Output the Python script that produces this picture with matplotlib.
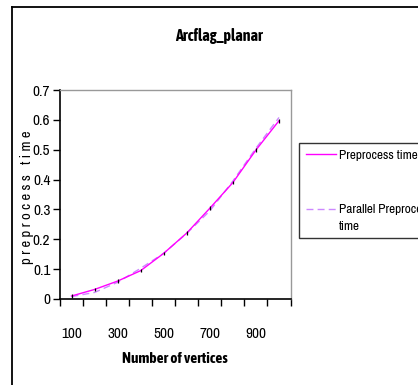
import matplotlib
matplotlib.use("Agg")
import matplotlib.pyplot as plt
from matplotlib.lines import Line2D
from matplotlib.legend_handler import HandlerLine2D
from matplotlib.ticker import FixedLocator, NullFormatter, FixedFormatter

plt.rcParams['font.family'] = ['Liberation Sans Narrow', 'Archivo Narrow', 'DejaVu Sans']
BOLD_FAMILY = ['Liberation Sans Narrow', 'Asap Condensed', 'DejaVu Sans']

vertices = [100, 200, 300, 400, 500, 600, 700, 800, 900, 1000]
preprocess = [0.010, 0.032, 0.060, 0.095, 0.153, 0.221, 0.304, 0.390, 0.499, 0.597]
parallel = [0.008, 0.022, 0.056, 0.103, 0.153, 0.220, 0.295, 0.395, 0.505, 0.608]
shown_labels = ['100', '300', '500', '700', '900']
yticks = [0, 0.1, 0.2, 0.3, 0.4, 0.5, 0.6, 0.7]
ytick_labels = ['0', '0.1', '0.2', '0.3', '0.4', '0.5', '0.6', '0.7']


class RaisedHandler(HandlerLine2D):
    def __init__(self, shift, **kw):
        super().__init__(**kw)
        self.shift = shift

    def create_artists(self, legend, orig_handle, xdescent, ydescent, width, height, fontsize, trans):
        return super().create_artists(legend, orig_handle, xdescent, ydescent - self.shift,
                                      width, height, fontsize, trans)


W, H = 418, 385
fig = plt.figure(figsize=(W / 100, H / 100), dpi=100)
ax = fig.add_axes([60 / W, 1 - 299 / H, (290.5 - 60) / W, (299 - 90) / H])

pos = list(range(1, len(vertices) + 1))
l1, = ax.plot(pos, preprocess, color='#ff00ff', lw=1.0, label='Preprocess time', zorder=3)
l2, = ax.plot(pos, parallel, color='#cc88ff', lw=1.0, ls=(0, (5, 3)), label='Parallel Preprocess\ntime', zorder=2)
ax.errorbar(pos, preprocess, yerr=0.006, fmt='none', ecolor='black', elinewidth=0.9, capsize=0, zorder=4)

ax.set_xlim(0.5, len(vertices) + 0.5)
ax.set_ylim(0, 0.7)
ax.xaxis.set_major_locator(FixedLocator([i + 0.5 for i in range(0, len(vertices) + 1)]))
ax.xaxis.set_major_formatter(NullFormatter())
ax.xaxis.set_minor_locator(FixedLocator([1, 3, 5, 7, 9]))
ax.xaxis.set_minor_formatter(FixedFormatter(shown_labels))
ax.tick_params(axis='x', which='major', direction='out', length=5, width=1)
ax.tick_params(axis='x', which='minor', length=0, pad=20, labelsize=11)
ax.set_yticks(yticks)
ax.set_yticklabels(ytick_labels)
ax.tick_params(axis='y', direction='out', length=5, width=1, labelsize=11, pad=2)

for s in ['top', 'right']:
    ax.spines[s].set_color('#999999')
    ax.spines[s].set_linewidth(1)
for s in ['left', 'bottom']:
    ax.spines[s].set_color('black')
    ax.spines[s].set_linewidth(1.2)

ax.set_xlabel('Number of vertices', fontsize=11, fontweight='bold', family=BOLD_FAMILY, labelpad=8)
fig.text(27 / W, 1 - 197 / H, 'p r e p r o c e s s   t i m e', rotation=90,
         ha='center', va='center', fontsize=10.5)
fig.text(219 / W, 1 - 36 / H, 'Arcflag_planar', ha='center', va='center',
         fontsize=11.5, fontweight='bold', family=BOLD_FAMILY)

leg = fig.legend(handles=[l1, l2], loc='upper left', bbox_to_anchor=(299 / W, 1 - 143 / H),
                 frameon=True, fancybox=False, edgecolor='black', fontsize=9.5,
                 handlelength=2.3, handletextpad=0.2, labelspacing=3.3,
                 borderpad=0.5, borderaxespad=0,
                 handler_map={l2: RaisedHandler(shift=13)})
leg.get_frame().set_linewidth(1.0)
leg.get_texts()[1].set_linespacing(1.6)

fig.add_artist(Line2D([12 / W, 12 / W], [0, 1 - 7 / H], color='black', lw=1.3, transform=fig.transFigure))
fig.add_artist(Line2D([12 / W, 1], [1 - 7 / H, 1 - 7 / H], color='black', lw=1.3, transform=fig.transFigure))

fig.savefig('out.png', dpi=100)
